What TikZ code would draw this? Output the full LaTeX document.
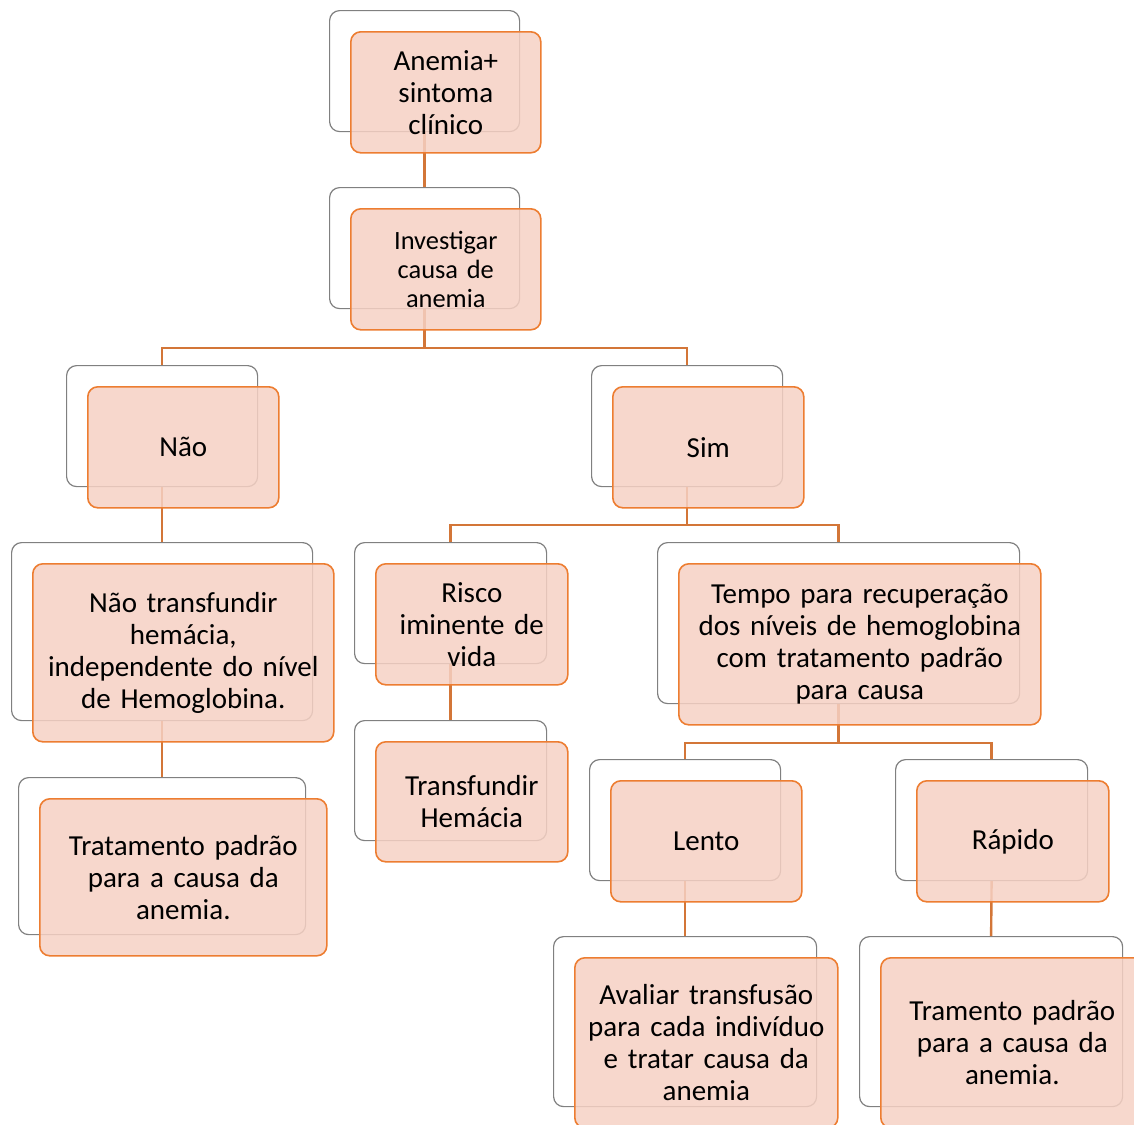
\documentclass[tikz,border=0pt]{standalone}
\usepackage{fontspec}
\setmainfont{Carlito}
\usetikzlibrary{positioning}

\definecolor{boxfill}{RGB}{246,209,196}
\definecolor{boxline}{RGB}{237,125,49}
\definecolor{linkline}{RGB}{211,118,56}

\tikzset{
  backbox/.style={draw=black!50, fill=white, rounded corners=5pt, line width=0.6pt,
    anchor=north west, inner sep=0pt},
  frontbox/.style={draw=boxline, fill=boxfill, fill opacity=0.85, text opacity=1,
    rounded corners=5pt, line width=0.8pt, anchor=north west, inner sep=0pt,
    align=center},
  link/.style={linkline, line width=1.2pt}
}

\begin{document}
\begin{tikzpicture}[x=0.5pt, y=-0.5pt, every node/.style={font=\fontsize{14.5}{16}\selectfont}]
  \useasboundingbox (0,0) rectangle (1134,1124);

  \def\boxlist{
    anemia/329/10/190/121/14.5/{Anemia+\\sintoma\\clínico},
    invest/329/187/190/121/13.2/{Investigar\\causa de\\anemia},
    nao/66/365/191/121/14.5/{Não},
    sim/591/365/191/121/14.5/{Sim},
    naotransf/11/542/301/178/14.5/{Não transfundir\\hemácia,\\independente do nível\\de Hemoglobina.},
    risco/354/542/192/121/14.5/{Risco\\iminente de\\vida},
    tempo/657/542/362/161/14.5/{Tempo para recuperação\\dos níveis de hemoglobina\\com tratamento padrão\\para causa},
    tratam/18/777/287/157/14.5/{Tratamento padrão\\para a causa da\\anemia.},
    transf/354/720/192/120/14.5/{Transfundir\\Hemácia},
    lento/589/759/191/121/14.5/{Lento},
    rapido/895/759/192/121/14.5/{Rápido},
    avaliar/553/936/263/170/14.5/{Avaliar transfusão\\para cada indivíduo\\e tratar causa da\\anemia},
    tramento/859/936/263/170/14.5/{Tramento padrão\\para a causa da\\anemia.}
  }

  \foreach \name/\x/\y/\w/\h/\fs/\txt in \boxlist {
    \pgfmathsetmacro\bw{\w*0.5}
    \pgfmathsetmacro\bh{\h*0.5}
    \node[backbox, minimum width=\bw pt, minimum height=\bh pt] (\name-b) at (\x,\y) {};
  }

  \draw[link] (anemia-b.south) -- (invest-b.north);
  \draw[link] (invest-b.south) -- ++(0,39) -| (nao-b.north);
  \draw[link] (invest-b.south) -- ++(0,39) -| (sim-b.north);
  \draw[link] (nao-b.south) -- (naotransf-b.north);
  \draw[link] (naotransf-b.south) -- (tratam-b.north);
  \draw[link] (sim-b.south) -- ++(0,38) -| (risco-b.north);
  \draw[link] (sim-b.south) -- ++(0,38) -| (tempo-b.north);
  \draw[link] (risco-b.south) -- (transf-b.north);
  \draw[link] (tempo-b.south) -- ++(0,39) -| (lento-b.north);
  \draw[link] (tempo-b.south) -- ++(0,39) -| (rapido-b.north);
  \draw[link] (lento-b.south) -- (avaliar-b.north);
  \draw[link] (rapido-b.south) -- (tramento-b.north);

  \foreach \name/\x/\y/\w/\h/\fs/\txt in \boxlist {
    \pgfmathsetmacro\bw{\w*0.5}
    \pgfmathsetmacro\bh{\h*0.5}
    \pgfmathsetmacro\tw{(\w-8)*0.5}
    \pgfmathsetmacro\bs{\fs*1.1}
    \node[frontbox, minimum width=\bw pt, minimum height=\bh pt, text width=\tw pt,
      font=\fontsize{\fs}{\bs}\selectfont]
      (\name) at ([shift={(21,21)}]\name-b.north west) {\txt};
  }
\end{tikzpicture}
\end{document}
